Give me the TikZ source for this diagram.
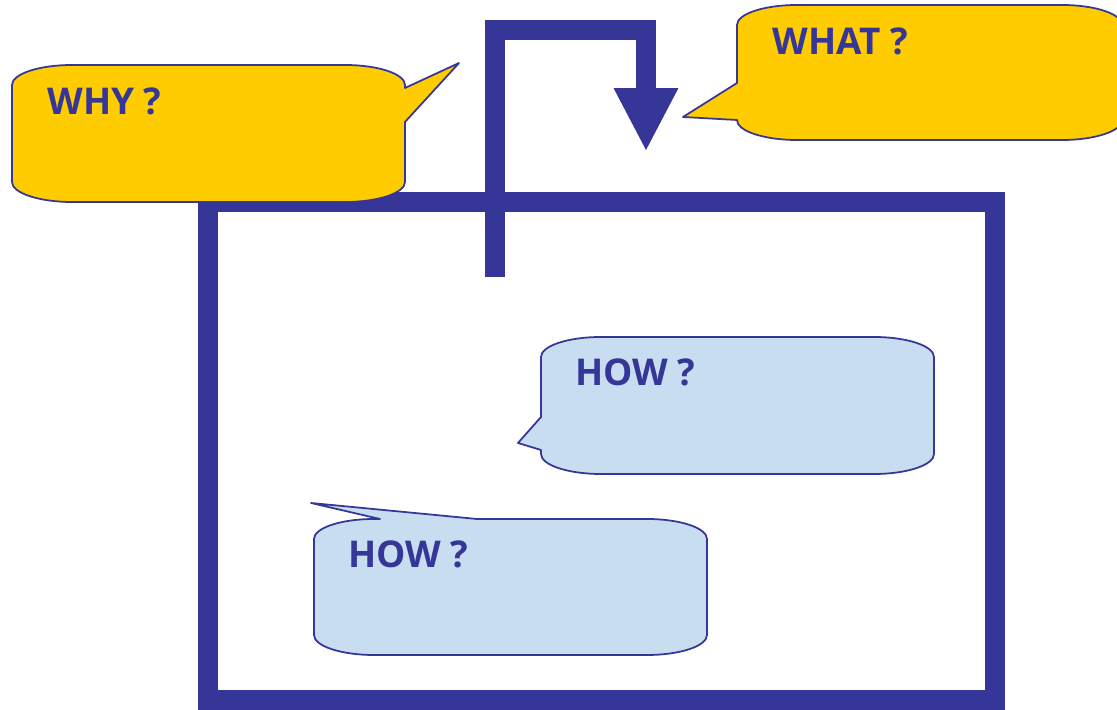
\documentclass[tikz,border=0pt]{standalone}
\usepackage{fontspec}
\setmainfont{Open Sans}
\usetikzlibrary{arrows.meta}
\definecolor{navy}{RGB}{54,54,152}
\definecolor{gold}{RGB}{255,204,0}
\definecolor{sky}{RGB}{200,221,240}
\begin{document}
\begin{tikzpicture}[x=0.02cm, y=0.02cm, line join=miter,
    frame/.style={draw=navy, line width=0.4cm},
    bubble/.style={draw=navy, line width=1pt, line join=round},
    qtext/.style={anchor=base west, inner sep=0pt, text=navy, font=\fontsize{21}{25}\selectfont\bfseries}]
  \def\rx{60} \def\ry{20}
  \useasboundingbox (0,0) rectangle (1117,710);
  % box and arrow
  \draw[frame] (208,508) rectangle (995,10);
  \draw[frame, -{Triangle[width=1.3cm, length=1.24cm, line width=0pt]}]
    (495,433) -- (495,680) -- (646,680) -- (646,560);
  % why
  \filldraw[bubble, fill=gold] (72,645) -- (345,645)
    arc[start angle=90, end angle=0, x radius=\rx, y radius=\ry]
    -- (405,622) -- (459,647) -- (405,588) -- (405,528)
    arc[start angle=0, end angle=-90, x radius=\rx, y radius=\ry]
    -- (72,508)
    arc[start angle=270, end angle=180, x radius=\rx, y radius=\ry]
    -- (12,625)
    arc[start angle=180, end angle=90, x radius=\rx, y radius=\ry] -- cycle;
  \node[qtext] (why) at (47,595) {WHY ?};
  % what
  \filldraw[bubble, fill=gold] (797,705) -- (1062,705)
    arc[start angle=90, end angle=0, x radius=\rx, y radius=\ry]
    -- (1122,590)
    arc[start angle=0, end angle=-90, x radius=\rx, y radius=\ry]
    -- (797,570)
    arc[start angle=270, end angle=180, x radius=\rx, y radius=\ry]
    -- (683,593) -- (737,627) -- (737,685)
    arc[start angle=180, end angle=90, x radius=\rx, y radius=\ry] -- cycle;
  \node[qtext] (what) at (772,655) {WHAT ?};
  % how (upper)
  \filldraw[bubble, fill=sky] (601,373) -- (874,373)
    arc[start angle=90, end angle=0, x radius=\rx, y radius=\ry]
    -- (934,256)
    arc[start angle=0, end angle=-90, x radius=\rx, y radius=\ry]
    -- (601,236)
    arc[start angle=270, end angle=180, x radius=\rx, y radius=\ry]
    -- (541,260) -- (518,267) -- (541,293) -- (541,353)
    arc[start angle=180, end angle=90, x radius=\rx, y radius=\ry] -- cycle;
  \node[qtext] (howA) at (575,324) {HOW ?};
  % how (lower)
  \filldraw[bubble, fill=sky] (314,171)
    arc[start angle=180, end angle=90, x radius=\rx, y radius=\ry]
    -- (380,191) -- (311,207) -- (477,191) -- (647,191)
    arc[start angle=90, end angle=0, x radius=\rx, y radius=\ry]
    -- (707,75)
    arc[start angle=0, end angle=-90, x radius=\rx, y radius=\ry]
    -- (374,55)
    arc[start angle=270, end angle=180, x radius=\rx, y radius=\ry] -- cycle;
  \node[qtext] (howB) at (348,142) {HOW ?};
\end{tikzpicture}
\end{document}
